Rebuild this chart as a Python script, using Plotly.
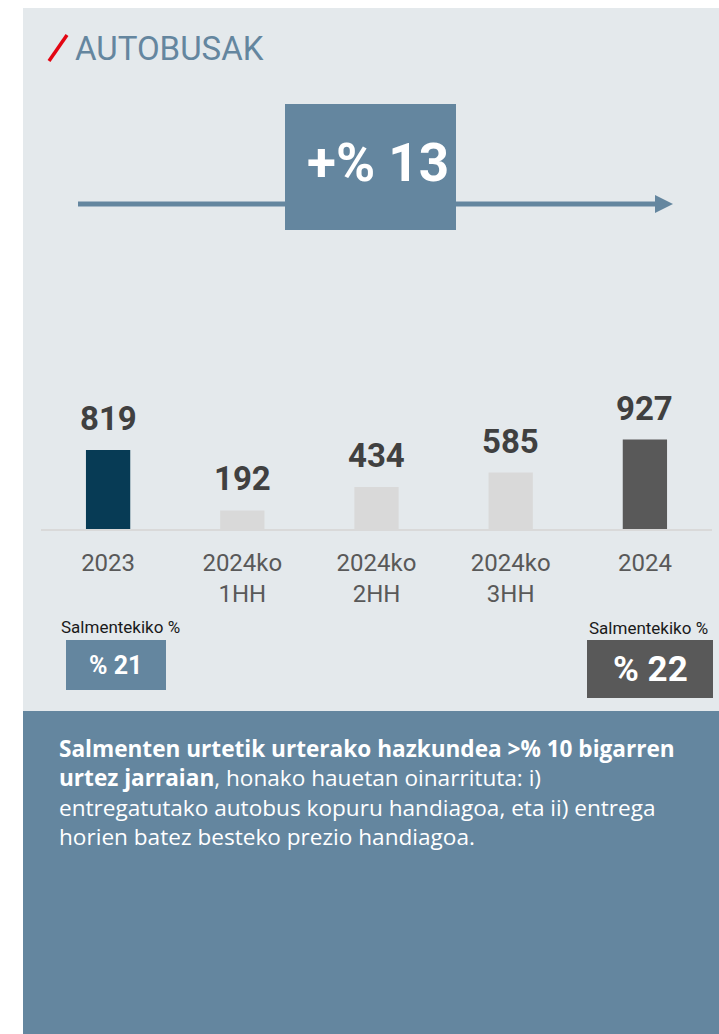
import plotly.graph_objects as go

W, H = 719, 1034

# ---- data ----
categories = ["2023", "2024ko<br>1HH", "2024ko<br>2HH", "2024ko<br>3HH", "2024"]
values = [819, 192, 434, 585, 927]
bar_colors = ["#073B55", "#D9D9D9", "#D9D9D9", "#D9D9D9", "#595959"]
growth_label = "+% 13"
share_label_left = "% 21"
share_label_right = "% 22"
share_caption = "Salmentekiko %"
title_text = "AUTOBUSAK"
body_text = ("<b>Salmenten urtetik urterako hazkundea >% 10 bigarren<br>"
             "urtez jarraian</b>, honako hauetan oinarrituta: i)<br>"
             "entregatutako autobus kopuru handiagoa, eta ii) entrega<br>"
             "horien batez besteko prezio handiagoa.")

LIGHT = "#E4E9EC"
BLUE = "#64869F"
FONT = "Roboto"


def px(x):
    return x / W


def py(y):
    return 1 - y / H


fig = go.Figure(
    go.Bar(
        x=list(range(len(categories))),
        y=values,
        marker_color=bar_colors,
        marker_line_width=0,
        width=0.33,
        hoverinfo="skip",
    )
)

shapes = [
    dict(type="rect", xref="paper", yref="paper", x0=px(23), x1=px(740), y0=py(711), y1=py(8),
         fillcolor=LIGHT, line_width=0, layer="below"),
    dict(type="rect", xref="paper", yref="paper", x0=px(23), x1=px(740), y0=py(1050), y1=py(711),
         fillcolor=BLUE, line_width=0, layer="below"),
    dict(type="line", xref="paper", yref="paper", x0=px(49), y0=py(61), x1=px(67), y1=py(35),
         line=dict(color="#E30613", width=3.5)),
    dict(type="line", xref="paper", yref="paper", x0=px(78), y0=py(204), x1=px(658), y1=py(204),
         line=dict(color=BLUE, width=5)),
    dict(type="path", xref="paper", yref="paper",
         path=f"M {px(655)} {py(195)} L {px(673)} {py(204)} L {px(655)} {py(213)} Z",
         fillcolor=BLUE, line_width=0),
    dict(type="rect", xref="paper", yref="paper", x0=px(285), x1=px(456), y0=py(230), y1=py(104),
         fillcolor=BLUE, line_width=0),
    dict(type="rect", xref="paper", yref="paper", x0=px(66), x1=px(166), y0=py(690), y1=py(640),
         fillcolor=BLUE, line_width=0),
    dict(type="rect", xref="paper", yref="paper", x0=px(587), x1=px(713), y0=py(698), y1=py(640),
         fillcolor="#595959", line_width=0),
]

annotations = [
    dict(xref="paper", yref="paper", x=px(73), y=py(48), xanchor="left", yanchor="middle",
         text=title_text, showarrow=False, font=dict(family=FONT, size=33, color=BLUE)),
    dict(xref="paper", yref="paper", x=px(378), y=py(163), xanchor="center", yanchor="middle",
         text=f"<b>{growth_label}</b>", showarrow=False,
         font=dict(family=FONT, size=53, color="white")),
    dict(xref="paper", yref="paper", x=px(120), y=py(627), xanchor="center", yanchor="middle",
         text=share_caption, showarrow=False, font=dict(family=FONT, size=17, color="#1A1A1A")),
    dict(xref="paper", yref="paper", x=px(648), y=py(628), xanchor="center", yanchor="middle",
         text=share_caption, showarrow=False, font=dict(family=FONT, size=17, color="#1A1A1A")),
    dict(xref="paper", yref="paper", x=px(116), y=py(665), xanchor="center", yanchor="middle",
         text=f"<b>{share_label_left}</b>", showarrow=False,
         font=dict(family=FONT, size=25, color="white")),
    dict(xref="paper", yref="paper", x=px(650), y=py(669), xanchor="center", yanchor="middle",
         text=f"<b>{share_label_right}</b>", showarrow=False,
         font=dict(family=FONT, size=35, color="white")),
    dict(xref="paper", yref="paper", x=px(57), y=py(731), xanchor="left", yanchor="top",
         text=body_text, showarrow=False, align="left",
         font=dict(family="Open Sans", size=22.6, color="white")),
]

for i, v in enumerate(values):
    annotations.append(
        dict(x=i, y=v, xref="x", yref="y", xanchor="center", yanchor="bottom", yshift=10,
             text=f"<b>{v}</b>", showarrow=False,
             font=dict(family=FONT, size=33, color="#404040"))
    )

fig.update_layout(
    width=W,
    height=H,
    margin=dict(l=0, r=0, t=0, b=0),
    paper_bgcolor="white",
    plot_bgcolor="rgba(0,0,0,0)",
    showlegend=False,
    shapes=shapes,
    annotations=annotations,
    xaxis=dict(
        domain=[px(41), px(712)],
        range=[-0.5, len(categories) - 0.5],
        tickmode="array",
        tickvals=list(range(len(categories))),
        ticktext=categories,
        showline=True,
        linecolor="#D9D9D9",
        linewidth=2,
        showgrid=False,
        zeroline=False,
        ticks="",
        tickfont=dict(family=FONT, size=24, color="#595959"),
        ticklabelstandoff=11,
        fixedrange=True,
    ),
    yaxis=dict(
        domain=[py(529), py(432.5)],
        range=[0, 1000],
        visible=False,
        fixedrange=True,
    ),
)

fig.write_html(
    "out.html",
    default_width=f"{W}px",
    default_height=f"{H}px",
    config={"displayModeBar": False},
    post_script="document.body.style.margin='0';",
)
